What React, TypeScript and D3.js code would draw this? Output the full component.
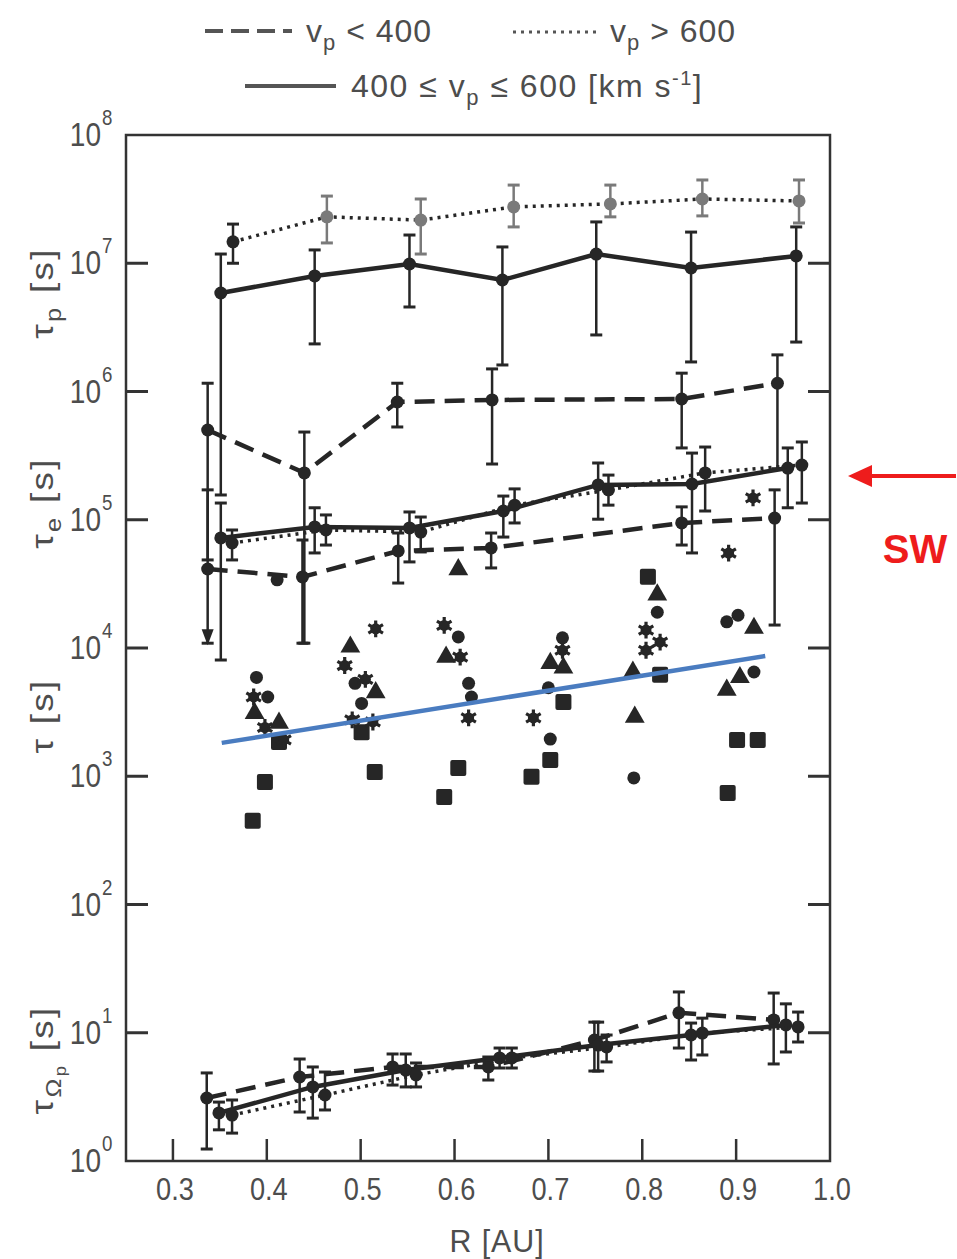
import React from 'react';
import * as d3 from 'd3';

const W = 957;
const H = 1259;

// ---------- axes ----------
const X_DOMAIN = [0.25, 1.0];
const Y_DOMAIN = [1, 1e8];
const X_TICKS = [0.3, 0.4, 0.5, 0.6, 0.7, 0.8, 0.9];
const X_TICK_LABELS = [0.3, 0.4, 0.5, 0.6, 0.7, 0.8, 0.9, 1.0];
const Y_EXPONENTS = [0, 1, 2, 3, 4, 5, 6, 7, 8];

// ---------- tau_p ----------
const TP_FAST_R = [0.364, 0.464, 0.564, 0.663, 0.766, 0.864, 0.967];
const TP_FAST = [1.47e7, 2.3e7, 2.17e7, 2.75e7, 2.9e7, 3.17e7, 3.06e7];
const TP_FAST_LO = [1.0e7, 1.44e7, 1.18e7, 1.92e7, 2.3e7, 2.34e7, 2.06e7];
const TP_FAST_HI = [2.02e7, 3.34e7, 3.17e7, 4.07e7, 4.07e7, 4.46e7, 4.46e7];

const TP_MID_R = [0.351, 0.451, 0.552, 0.651, 0.751, 0.852, 0.964];
const TP_MID = [5.86e6, 7.96e6, 9.87e6, 7.4e6, 1.18e7, 9.18e6, 1.14e7];
const TP_MID_LO = [1.56e5, 2.35e6, 4.56e6, 1.61e6, 2.76e6, 1.7e6, 2.43e6];
const TP_MID_HI = [1.18e7, 1.27e7, 1.66e7, 1.34e7, 2.1e7, 1.75e7, 1.92e7];

const TP_SLOW_R = [0.337, 0.44, 0.539, 0.64, 0.842, 0.944];
const TP_SLOW = [5.01e5, 2.32e5, 8.28e5, 8.59e5, 8.74e5, 1.16e6];
const TP_SLOW_LO = [4.86e4, 1.09e4, 5.29e5, 2.72e5, 3.63e5, 2.5e5];
const TP_SLOW_HI = [1.16e6, 4.83e5, 1.16e6, 1.5e6, 1.39e6, 1.93e6];

// ---------- tau_e ----------
const TE_MID_R = [0.351, 0.451, 0.552, 0.652, 0.753, 0.853, 0.955];
const TE_MID = [7.21e4, 8.79e4, 8.63e4, 1.17e5, 1.87e5, 1.9e5, 2.53e5];
const TE_MID_LO = [8.06e3, 5.51e4, 4.69e4, 7.33e4, 1.01e5, 5.51e4, 1.24e5];
const TE_MID_HI = [1.35e5, 1.24e5, 1.15e5, 1.53e5, 2.77e5, 3.31e5, 3.63e5];

const TE_FAST_R = [0.363, 0.463, 0.564, 0.664, 0.764, 0.867, 0.97];
const TE_FAST = [6.59e4, 8.32e4, 8.02e4, 1.3e5, 1.71e5, 2.32e5, 2.67e5];
const TE_FAST_LO = [4.86e4, 6.35e4, 5.61e4, 9.44e4, 1.3e5, 1.17e5, 1.35e5];
const TE_FAST_HI = [8.32e4, 1.09e5, 1.05e5, 1.74e5, 2.23e5, 3.69e5, 4.04e5];

const TE_SLOW_R = [0.337, 0.438, 0.54, 0.639, 0.842, 0.941];
const TE_SLOW = [4.13e4, 3.58e4, 5.71e4, 6.03e4, 9.44e4, 1.03e5];
const TE_SLOW_LO = [1.09e4, 1.09e4, 3.21e4, 4.21e4, 6.35e4, 1.51e4];
const TE_SLOW_HI = [1.71e5, 6.95e4, 7.88e4, 7.88e4, 1.26e5, 1.71e5];

// ---------- tau_Omega_p ----------
const TO_SLOW_R = [0.336, 0.435, 0.534, 0.636, 0.749, 0.839, 0.94];
const TO_SLOW = [3.1, 4.52, 5.41, 5.41, 8.78, 14.3, 12.6];
const TO_SLOW_LO = [1.24, 2.41, 3.91, 4.28, 5.03, 7.6, 5.71];
const TO_SLOW_HI = [4.86, 6.24, 6.83, 6.47, 12.1, 20.8, 20.4];

const TO_MID_R = [0.349, 0.449, 0.548, 0.648, 0.753, 0.852, 0.953];
const TO_MID = [2.37, 3.78, 5.12, 6.36, 8.02, 9.6, 11.5];
const TO_MID_LO = [1.75, 2.16, 3.78, 5.31, 5.03, 6.13, 7.08];
const TO_MID_HI = [2.88, 5.41, 6.83, 7.6, 12.1, 11.9, 16.8];

const TO_FAST_R = [0.363, 0.462, 0.559, 0.661, 0.762, 0.864, 0.966];
const TO_FAST = [2.28, 3.27, 4.69, 6.36, 7.74, 9.95, 11.1];
const TO_FAST_LO = [1.65, 2.5, 3.78, 5.31, 5.92, 6.71, 8.47];
const TO_FAST_HI = [2.99, 4.94, 5.81, 7.6, 9.6, 13.0, 14.5];

// ---------- tau scatter ----------
const SQ_R = [0.385, 0.398, 0.413, 0.501, 0.515, 0.589, 0.604, 0.716, 0.702, 0.682, 0.806, 0.819, 0.901, 0.923, 0.891];
const SQ_V = [450, 900, 1850, 2200, 1080, 690, 1160, 3800, 1340, 990, 36000, 6200, 1920, 1920, 740];

const TRI_R = [0.413, 0.387, 0.489, 0.516, 0.591, 0.604, 0.702, 0.716, 0.816, 0.79, 0.792, 0.919, 0.904, 0.89];
const TRI_V = [2600, 3100, 10200, 4500, 8500, 41000, 7600, 7000, 26000, 6500, 2900, 14300, 5900, 4700];

const CIR_R = [0.389, 0.401, 0.411, 0.501, 0.494, 0.604, 0.615, 0.618, 0.715, 0.7, 0.702, 0.816, 0.791, 0.89, 0.902, 0.919];
const CIR_V = [5900, 4150, 34000, 3700, 5300, 12200, 5300, 4150, 12000, 4900, 1950, 19000, 970, 16000, 18000, 6500];

const AST_R = [0.386, 0.398, 0.418, 0.516, 0.483, 0.505, 0.491, 0.513, 0.589, 0.606, 0.615, 0.715, 0.684, 0.804, 0.804, 0.819, 0.918, 0.892];
const AST_V = [4150, 2400, 1920, 14100, 7300, 5700, 2750, 2650, 15000, 8500, 2850, 9600, 2850, 13800, 9600, 11100, 148000, 55000];

// ---------- fit line ----------
const FIT_R = [0.352, 0.931];
const FIT_V = [1820, 8660];

const x = d3.scaleLinear().domain(X_DOMAIN).range([126, 830]);
const y = d3.scaleLog().domain(Y_DOMAIN).range([1161, 135]);

const INK = '#262626';
const GRAYTXT = '#4d4d4d';
const FONT = '"Liberation Sans", Arial, sans-serif';

type Series = {
  R: number[]; v: number[]; lo: number[]; hi: number[];
  dash: string; width: number; markerColor?: (i: number) => string;
};

const DASHED = '20 10';
const DOTTED = '3 5';

const SERIES: Series[] = [
  { R: TP_FAST_R, v: TP_FAST, lo: TP_FAST_LO, hi: TP_FAST_HI, dash: DOTTED, width: 3.5,
    markerColor: (i) => (i === 0 ? INK : '#7a7a7a') },
  { R: TP_MID_R, v: TP_MID, lo: TP_MID_LO, hi: TP_MID_HI, dash: 'none', width: 4.5 },
  { R: TP_SLOW_R, v: TP_SLOW, lo: TP_SLOW_LO, hi: TP_SLOW_HI, dash: DASHED, width: 4.5 },
  { R: TE_MID_R, v: TE_MID, lo: TE_MID_LO, hi: TE_MID_HI, dash: 'none', width: 4.5 },
  { R: TE_FAST_R, v: TE_FAST, lo: TE_FAST_LO, hi: TE_FAST_HI, dash: DOTTED, width: 3.5 },
  { R: TE_SLOW_R, v: TE_SLOW, lo: TE_SLOW_LO, hi: TE_SLOW_HI, dash: DASHED, width: 4.5 },
  { R: TO_SLOW_R, v: TO_SLOW, lo: TO_SLOW_LO, hi: TO_SLOW_HI, dash: DASHED, width: 4.5 },
  { R: TO_MID_R, v: TO_MID, lo: TO_MID_LO, hi: TO_MID_HI, dash: 'none', width: 4.5 },
  { R: TO_FAST_R, v: TO_FAST, lo: TO_FAST_LO, hi: TO_FAST_HI, dash: DOTTED, width: 3.5 },
];

const lineGen = d3.line<[number, number]>().x((d) => x(d[0])).y((d) => y(d[1]));

function CText({ tx, ty, sx = 0.85, children, anchor = 'start', size = 32, fill = GRAYTXT, rotate = 0, ls = 0 }: any) {
  return (
    <g transform={`translate(${tx},${ty}) rotate(${rotate}) scale(${sx},1)`}>
      <text textAnchor={anchor} fontSize={size} fill={fill} fontFamily={FONT} letterSpacing={ls}>{children}</text>
    </g>
  );
}

export default function App() {
  const triPath = d3.symbol(d3.symbolTriangle, 170)() as string;
  const astPath = d3.symbol(d3.symbolAsterisk, 200)() as string;
  return (
    <svg width={W} height={H} style={{ position: 'absolute', left: 0, top: 0, background: '#fff' }}>
      <rect x={0} y={0} width={W} height={H} fill="#fff" />

      {/* Legend */}
      <line x1={205} x2={292} y1={31} y2={31} stroke="#555" strokeWidth={4} strokeDasharray="18 8" />
      <CText tx={306} ty={42} sx={1.0} ls={1}>v<tspan dy={8} fontSize={22}>p</tspan><tspan dy={-8}> &lt; 400</tspan></CText>
      <line x1={513} x2={598} y1={32} y2={32} stroke="#555" strokeWidth={3} strokeDasharray="3 5" />
      <CText tx={610} ty={42} sx={1.0} ls={1}>v<tspan dy={8} fontSize={22}>p</tspan><tspan dy={-8}> &gt; 600</tspan></CText>
      <line x1={245} x2={336} y1={86} y2={86} stroke="#555" strokeWidth={4} />
      <CText tx={351} ty={97} sx={1.0} ls={1.5}>400 ≤ v<tspan dy={8} fontSize={22}>p</tspan><tspan dy={-8}> ≤ 600 [km s</tspan><tspan dy={-12} fontSize={20}>-1</tspan><tspan dy={12}>]</tspan></CText>

      {/* Frame */}
      <rect x={126} y={135} width={704} height={1026} fill="none" stroke="#333" strokeWidth={2.5} />

      {/* Y ticks */}
      {Y_EXPONENTS.filter((e) => e > 0 && e < 8).map((e) => (
        <g key={'yt' + e}>
          <line x1={126} x2={148} y1={y(10 ** e)} y2={y(10 ** e)} stroke="#333" strokeWidth={3} />
          <line x1={830} x2={808} y1={y(10 ** e)} y2={y(10 ** e)} stroke="#333" strokeWidth={3} />
        </g>
      ))}
      {Y_EXPONENTS.map((e) => (
        <g key={'yl' + e}>
          <CText tx={101} ty={y(10 ** e) + 11} anchor="end" size={33}>10</CText>
          <CText tx={102} ty={y(10 ** e) - 10} size={22}>{e}</CText>
        </g>
      ))}

      {/* X ticks */}
      {X_TICKS.map((t) => (
        <line key={'xt' + t} x1={x(t)} x2={x(t)} y1={1161} y2={1139} stroke="#333" strokeWidth={2.5} />
      ))}
      {X_TICK_LABELS.map((t) => (
        <CText key={'xl' + t} tx={x(t) + 2} ty={1200} anchor="middle">{t.toFixed(1)}</CText>
      ))}
      <CText tx={497} ty={1252} anchor="middle" sx={0.95} ls={1}>R [AU]</CText>

      {/* Y titles */}
      <CText tx={53} ty={293} anchor="middle" rotate={-90} sx={1.15} ls={2}>τ<tspan dy={8} fontSize={22}>p</tspan><tspan dy={-8}>  [s]</tspan></CText>
      <CText tx={53} ty={503} anchor="middle" rotate={-90} sx={1.15} ls={2}>τ<tspan dy={8} fontSize={22}>e</tspan><tspan dy={-8}>  [s]</tspan></CText>
      <CText tx={53} ty={716} anchor="middle" rotate={-90} sx={1.15} ls={2}>τ  [s]</CText>
      <CText tx={53} ty={1060} anchor="middle" rotate={-90} sx={1.15} ls={2}>τ<tspan dy={8} fontSize={22}>Ω</tspan><tspan dy={5} fontSize={16}>p</tspan><tspan dy={-13}>  [s]</tspan></CText>

      {/* Series */}
      {SERIES.map((s, si) => {
        const pts = s.R.map((r, i) => [r, s.v[i]] as [number, number]);
        return (
          <g key={'s' + si}>
            <path d={lineGen(pts) as string} fill="none" stroke={INK} strokeWidth={s.width}
              strokeDasharray={s.dash} />
            {s.R.map((r, i) => {
              const c = s.markerColor ? s.markerColor(i) : INK;
              const cx = x(r);
              return (
                <g key={i}>
                  <line x1={cx} x2={cx} y1={y(s.hi[i])} y2={y(s.lo[i])} stroke={c} strokeWidth={2.5} />
                  <line x1={cx - 6} x2={cx + 6} y1={y(s.hi[i])} y2={y(s.hi[i])} stroke={c} strokeWidth={3} />
                  <line x1={cx - 6} x2={cx + 6} y1={y(s.lo[i])} y2={y(s.lo[i])} stroke={c} strokeWidth={3} />
                  <circle cx={cx} cy={y(s.v[i])} r={6.5} fill={c} />
                </g>
              );
            })}
          </g>
        );
      })}
      {/* lower-limit arrow on first slow tau_e point */}
      <path d={`M${x(TE_SLOW_R[0]) - 6},${y(TE_SLOW_LO[0]) - 14} L${x(TE_SLOW_R[0]) + 6},${y(TE_SLOW_LO[0]) - 14} L${x(TE_SLOW_R[0])},${y(TE_SLOW_LO[0]) + 2} Z`} fill={INK} />

      {/* tau scatter */}
      {SQ_R.map((r, i) => (
        <rect key={'sq' + i} x={x(r) - 8} y={y(SQ_V[i]) - 8} width={16} height={16} fill={INK} rx={2} />
      ))}
      {TRI_R.map((r, i) => (
        <path key={'tr' + i} d={triPath} transform={`translate(${x(r)},${y(TRI_V[i])})`} fill={INK} />
      ))}
      {CIR_R.map((r, i) => (
        <circle key={'ci' + i} cx={x(r)} cy={y(CIR_V[i])} r={6.5} fill={INK} />
      ))}
      {AST_R.map((r, i) => (
        <g key={'as' + i} transform={`translate(${x(r)},${y(AST_V[i])})`}>
          <circle r={5.5} fill={INK} />
          <path d={astPath} stroke={INK} strokeWidth={3.2} fill="none" />
        </g>
      ))}

      {/* fit line */}
      <path d={lineGen(FIT_R.map((r, i) => [r, FIT_V[i]] as [number, number])) as string}
        stroke="#4a7cc0" strokeWidth={4.5} fill="none" />

      {/* SW annotation */}
      <line x1={956} x2={866} y1={476} y2={476} stroke="#ee1c1c" strokeWidth={4} />
      <path d="M848,476 L872,465 L872,487 Z" fill="#ee1c1c" />
      <text x={915} y={563} textAnchor="middle" fontSize={40} fontWeight="bold" fill="#ee1c1c"
        fontFamily={FONT}>SW</text>
    </svg>
  );
}
